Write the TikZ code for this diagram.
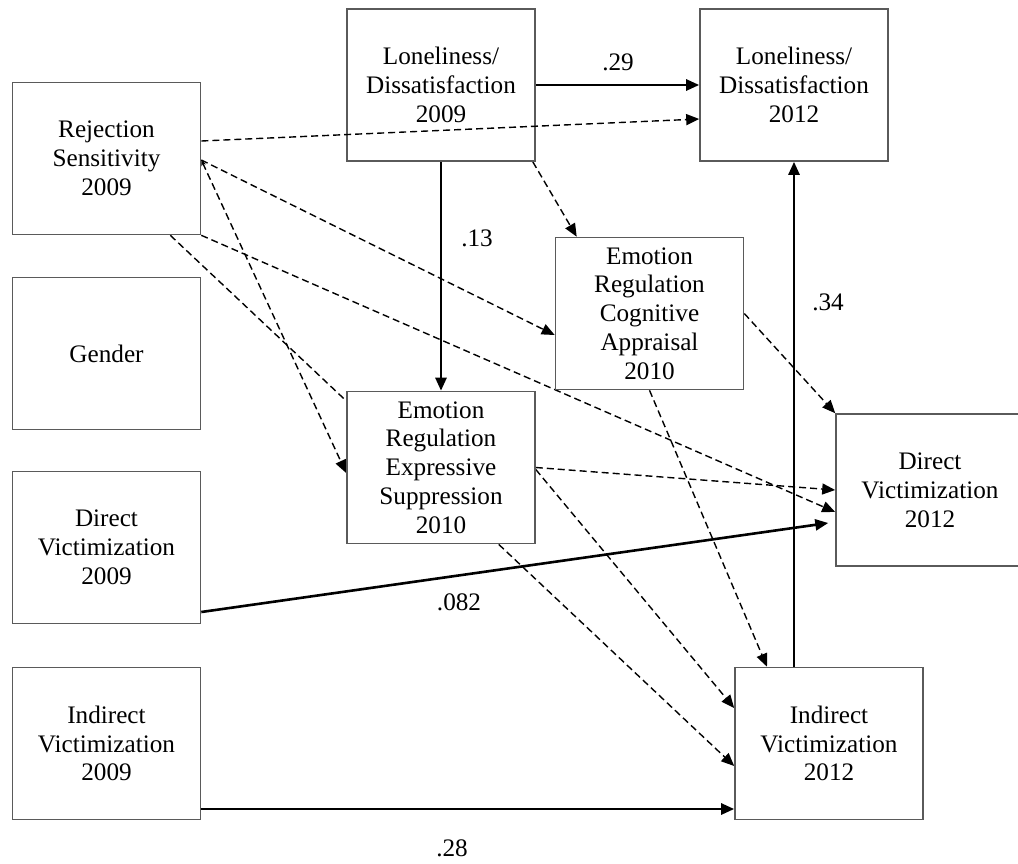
\documentclass[tikz,border=0pt]{standalone}
\usepackage{fontspec}
\setmainfont{Liberation Serif}
\usetikzlibrary{arrows.meta,calc}
\pgfdeclarelayer{bg}
\pgfdeclarelayer{paper}
\pgfsetlayers{paper,bg,main}
\definecolor{boxgray}{HTML}{5A5A5A}
\begin{document}
\begin{tikzpicture}[x=1pt,y=-1pt,
  box/.style={draw=boxgray, line width=1.6pt, fill=white, minimum width=188pt,
    minimum height=152pt, inner sep=0pt, align=center,
    font=\fontsize{25.2}{28.8}\selectfont},
  tipA/.style={-{Triangle[length=13pt,width=11pt]}},
  sol/.style={line width=2.6pt, tipA},
  dsh/.style={line width=1.4pt, dash pattern=on 7pt off 4pt, tipA},
  lab/.style={font=\fontsize{25.2}{28.8}\selectfont, inner sep=0pt}]
\clip (0,0) rectangle (1018,863);
\begin{pgfonlayer}{paper}
\fill[white] (0,0) rectangle (1018,863);
\end{pgfonlayer}

% boxes
\node[box] (rs)     at (106.5,158.5) {Rejection\\Sensitivity\\2009};
\node[box] (gender) at (106.5,353.5) {Gender};
\node[box] (dv09)   at (106.5,547.5) {Direct\\Victimization\\2009};
\node[box] (iv09)   at (106.5,743.5) {Indirect\\Victimization\\2009};
\node[box] (lon09)  at (441,85)      {Loneliness/\\Dissatisfaction\\2009};
\node[box] (lon12)  at (794,85)      {Loneliness/\\Dissatisfaction\\2012};
\node[box] (cog)    at (649.5,313.5) {Emotion\\Regulation\\Cognitive\\Appraisal\\2010};
\node[box] (es)     at (441,467.5)   {Emotion\\Regulation\\Expressive\\Suppression\\2010};
\node[box] (dv12)   at (930,490)     {Direct\\Victimization\\2012};
\node[box] (iv12)   at (829,743.5)   {Indirect\\Victimization\\2012};

% labels
\node[lab] (l29)  at (618,62)  {.29};
\node[lab] (l13)  at (477,238) {.13};
\node[lab] (l34)  at (828,302) {.34};
\node[lab] (l082) at (459,602) {.082};
\node[lab] (l28)  at (452,848) {.28};

% this dashed path runs across the 2009 loneliness box
\draw[dsh] ([yshift=17.5pt]rs.east) -- ([yshift=-34pt]lon12.west);

\begin{pgfonlayer}{bg}
% solid paths
\draw[sol] (lon09.east) -- (lon12.west);
\draw[sol] (lon09.south) -- (es.north);
\draw[sol, shorten >=7pt] ([yshift=-64.5pt]dv09.east) -- ([yshift=-32pt]dv12.west);
\draw[sol] ([yshift=-65.5pt]iv09.east) -- ([yshift=-65.5pt]iv12.west);
\draw[sol] (iv12.north -| lon12.south) -- (lon12.south);
% dashed paths
\draw[dsh] ([xshift=-3pt]lon09.south east) -- ([xshift=22pt]cog.north west);
\draw[dsh] ([yshift=-1.5pt]rs.east) -- ([yshift=-21.5pt]cog.west);
\draw[dsh, {Stealth[length=6pt,width=5pt]}-{Triangle[length=13pt,width=11pt]}]
  ([yshift=-1.5pt]rs.east) -- ([yshift=-5.5pt]es.west);
\draw[dsh] (rs.south east) -- ([yshift=-22pt]dv12.west);
\draw[dsh] ([xshift=-31pt]rs.south east) -- ([yshift=-22.5pt]iv12.west);
\draw[dsh] (cog.east) -- (dv12.north west);
\draw[dsh] (cog.south) -- ([xshift=-62pt]iv12.north);
\draw[dsh] (es.east) -- (dv12.west);
\draw[dsh] ([yshift=-2pt]es.east) -- ([yshift=35.5pt]iv12.west);
\end{pgfonlayer}
\end{tikzpicture}
\end{document}
